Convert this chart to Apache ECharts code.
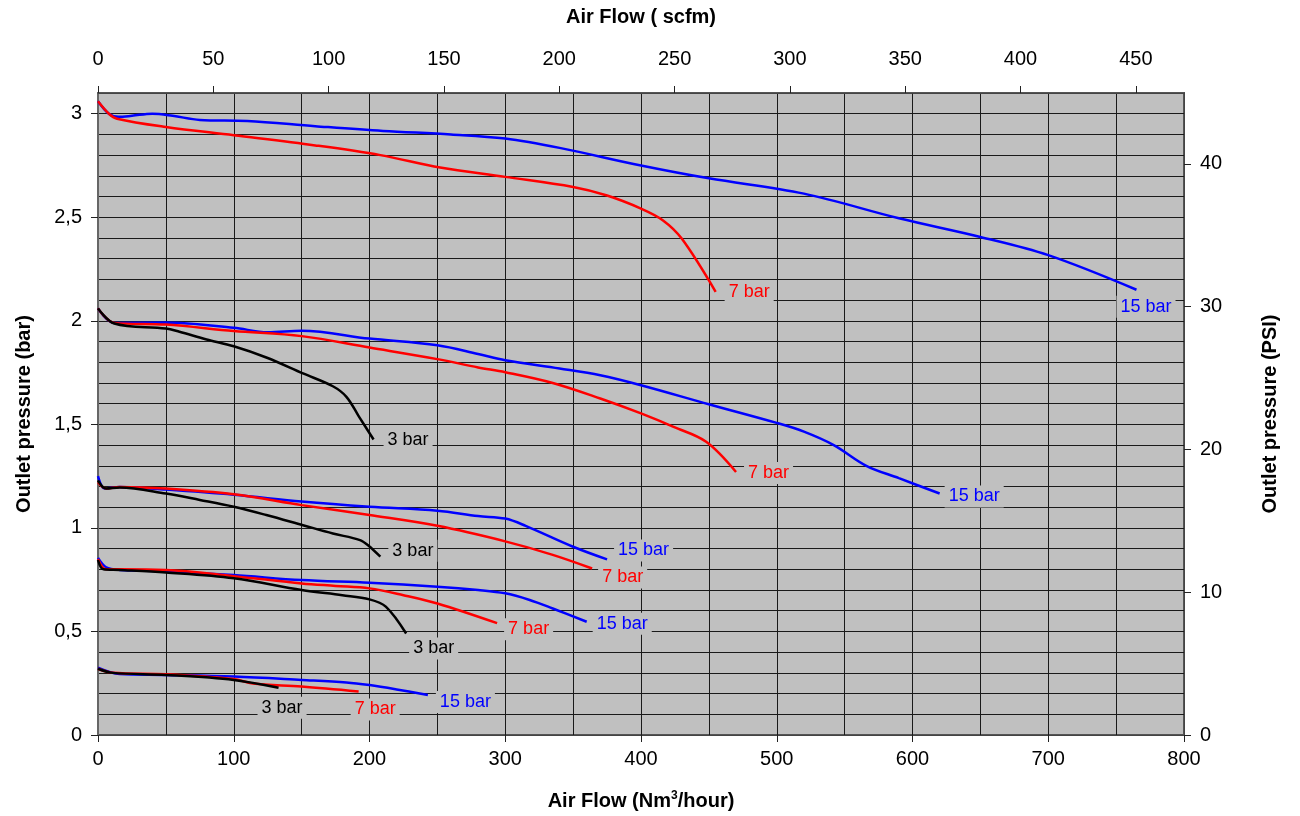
<!DOCTYPE html>
<html>
<head>
<meta charset="utf-8">
<script src="https://cdn.jsdelivr.net/npm/echarts@6/dist/echarts.min.js"></script>
<style>
  html, body { margin: 0; padding: 0; background: #fff; }
  #chart { width: 1300px; height: 816px; }
</style>
</head>
<body>
<div id="chart"></div>
<script>
// x = air flow (Nm3/hour), y = outlet pressure (bar)

// outlet ~3 bar
const a15 = [[0,3.06],[8,3.0],[15,2.985],[25,2.99],[40,3.0],[55,2.99],[75,2.97],[110,2.965],[160,2.94],[210,2.917],[260,2.9],[300,2.88],[340,2.835],[400,2.75],[450,2.688],[520,2.614],[590,2.495],[650,2.405],[700,2.317],[765,2.15]];
const a7 = [[0,3.06],[8,3.0],[14,2.976],[50,2.936],[100,2.896],[160,2.847],[208,2.80],[252,2.74],[300,2.695],[350,2.646],[375,2.605],[400,2.542],[416,2.486],[430,2.397],[455,2.14]];

// outlet ~2 bar
const b15 = [[0,2.06],[12,1.99],[50,1.992],[100,1.966],[125,1.945],[150,1.952],[200,1.914],[250,1.882],[280,1.84],[300,1.81],[340,1.77],[370,1.737],[400,1.689],[450,1.597],[500,1.507],[520,1.465],[542,1.40],[566,1.30],[590,1.24],[620,1.166]];
const b7 = [[0,2.06],[12,1.99],[50,1.982],[100,1.951],[150,1.926],[200,1.871],[250,1.815],[280,1.775],[300,1.752],[335,1.70],[370,1.625],[400,1.553],[424,1.488],[448,1.416],[470,1.27]];
const b3 = [[0,2.06],[12,1.987],[50,1.963],[60,1.947],[80,1.91],[100,1.877],[124,1.823],[151,1.746],[173,1.684],[183,1.633],[192,1.54],[203,1.427]];

// outlet ~1.2 bar
const c15 = [[0,1.25],[5,1.19],[16,1.198],[50,1.185],[100,1.16],[150,1.127],[200,1.102],[250,1.083],[280,1.057],[300,1.045],[315,1.01],[350,0.909],[375,0.848]];
const c7 = [[0,1.22],[6,1.19],[16,1.198],[50,1.19],[100,1.162],[150,1.11],[200,1.062],[250,1.01],[300,0.935],[335,0.87],[364,0.804]];
const c3 = [[0,1.23],[6,1.19],[16,1.195],[50,1.166],[75,1.135],[100,1.102],[124,1.062],[151,1.013],[173,0.973],[193,0.941],[200,0.91],[208,0.861]];

// outlet ~0.8 bar
const d15 = [[0,0.855],[6,0.81],[16,0.797],[50,0.79],[100,0.772],[150,0.748],[200,0.735],[250,0.716],[280,0.70],[300,0.684],[318,0.652],[335,0.611],[360,0.547]];
const d7 = [[0,0.85],[6,0.80],[16,0.80],[50,0.797],[100,0.767],[150,0.732],[175,0.72],[200,0.708],[225,0.675],[250,0.635],[294,0.54]];
const d3 = [[0,0.845],[4,0.80],[16,0.797],[50,0.785],[100,0.757],[150,0.70],[180,0.675],[200,0.655],[212,0.62],[227,0.49]];

// outlet ~0.3 bar
const e15 = [[0,0.325],[16,0.294],[50,0.29],[100,0.282],[150,0.266],[183,0.254],[200,0.241],[220,0.22],[243,0.193]];
const e7 = [[0,0.32],[11,0.30],[50,0.293],[100,0.27],[114,0.249],[150,0.234],[192,0.21]];
const e3 = [[0,0.32],[11,0.30],[50,0.29],[100,0.266],[133,0.228]];

const SCFM = 1.699;      // Nm3/h per scfm
const PSI = 14.5038;     // psi per bar
const xMax = 800;
const yMax = 3.1;

const colors = { '3 bar': '#000000', '7 bar': '#ff0000', '15 bar': '#0000ff' };
const font = 'Liberation Sans, Arial, sans-serif';
const gridLine = { color: '#1a1a1a', width: 1 };

function curve(data, name, off) {
  return {
    type: 'line',
    name: name,
    data: data,
    smooth: 0.35,
    symbol: 'none',
    lineStyle: { color: colors[name], width: 2.5 },
    markPoint: {
      symbol: 'circle',
      symbolSize: 2,
      itemStyle: { color: 'rgba(0,0,0,0)' },
      label: {
        show: true,
        position: 'right',
        distance: 0,
        offset: off,
        formatter: name,
        color: colors[name],
        fontFamily: font,
        fontSize: 18,
        backgroundColor: '#c0c0c0',
        padding: [2, 4]
      },
      data: [{ coord: data[data.length - 1] }]
    }
  };
}

let chart = echarts.init(document.getElementById('chart'));
let option = {
  animation: false,
  grid: {
    left: 98, right: 116, top: 93, bottom: 81,
    show: true,
    backgroundColor: '#c0c0c0',
    borderColor: '#555',
    borderWidth: 2
  },
  xAxis: [
    {
      type: 'value',
      position: 'bottom',
      min: 0, max: xMax, interval: 100,
      name: 'Air Flow (Nm{sup|3}/hour)',
      nameLocation: 'middle',
      nameGap: 55,
      nameTextStyle: {
        fontFamily: font, fontSize: 20, fontWeight: 'bold', color: '#000',
        rich: { sup: { fontFamily: font, fontSize: 12, fontWeight: 'bold', verticalAlign: 'top', padding: [0, 0, 10, 0] } }
      },
      axisLine: { show: true, onZero: false, lineStyle: { color: '#444', width: 1 } },
      axisTick: { show: true, length: 7, lineStyle: { color: '#222' } },
      axisLabel: { fontFamily: font, fontSize: 20, color: '#000', margin: 14 },
      splitLine: { show: true, lineStyle: gridLine },
      minorTick: { show: false, splitNumber: 2 },
      minorSplitLine: { show: true, lineStyle: gridLine }
    },
    {
      type: 'value',
      position: 'top',
      min: 0, max: xMax / SCFM, interval: 50,
      name: 'Air Flow ( scfm)',
      nameLocation: 'middle',
      nameGap: 66,
      nameTextStyle: { fontFamily: font, fontSize: 20, fontWeight: 'bold', color: '#000' },
      axisLine: { show: true, onZero: false, lineStyle: { color: '#444' } },
      axisTick: { show: true, length: 7, lineStyle: { color: '#222' } },
      axisLabel: { fontFamily: font, fontSize: 20, color: '#000', margin: 24, showMaxLabel: false },
      splitLine: { show: false }
    }
  ],
  yAxis: [
    {
      type: 'value',
      position: 'left',
      min: 0, max: yMax, interval: 0.5,
      name: 'Outlet pressure (bar)',
      nameLocation: 'middle',
      nameGap: 64,
      nameTextStyle: { fontFamily: font, fontSize: 20, fontWeight: 'bold', color: '#000' },
      axisLine: { show: true, onZero: false, lineStyle: { color: '#666', width: 2 } },
      axisTick: { show: true, length: 7, lineStyle: { color: '#222' } },
      axisLabel: {
        fontFamily: font, fontSize: 20, color: '#000', margin: 16, showMaxLabel: false,
        formatter: v => String(v).replace('.', ',')
      },
      splitLine: { show: true, lineStyle: gridLine },
      minorTick: { show: false, splitNumber: 5 },
      minorSplitLine: { show: true, lineStyle: gridLine }
    },
    {
      type: 'value',
      position: 'right',
      min: 0, max: yMax * PSI, interval: 10,
      name: 'Outlet pressure (PSI)',
      nameLocation: 'middle',
      nameGap: 76,
      nameTextStyle: { fontFamily: font, fontSize: 20, fontWeight: 'bold', color: '#000' },
      axisLine: { show: true, onZero: false, lineStyle: { color: '#444' } },
      axisTick: { show: true, length: 7, lineStyle: { color: '#222' } },
      axisLabel: { fontFamily: font, fontSize: 20, color: '#000', margin: 16, showMaxLabel: false },
      splitLine: { show: false }
    }
  ],
  series: [
    curve(a15, '15 bar', [-21, 17]),
    curve(a7, '7 bar', [8, 0]),
    curve(b15, '15 bar', [4, 3]),
    curve(b7, '7 bar', [7, 1]),
    curve(b3, '3 bar', [9, 1]),
    curve(c15, '15 bar', [6, -9]),
    curve(c7, '7 bar', [5, 9]),
    curve(c3, '3 bar', [7, -6]),
    curve(d15, '15 bar', [5, 2]),
    curve(d7, '7 bar', [6, 6]),
    curve(d3, '3 bar', [2, 15]),
    curve(e15, '15 bar', [7, 7]),
    curve(e7, '7 bar', [-9, 18]),
    curve(e3, '3 bar', [-22, 20])
  ]
};
chart.setOption(option);
</script>
</body>
</html>
